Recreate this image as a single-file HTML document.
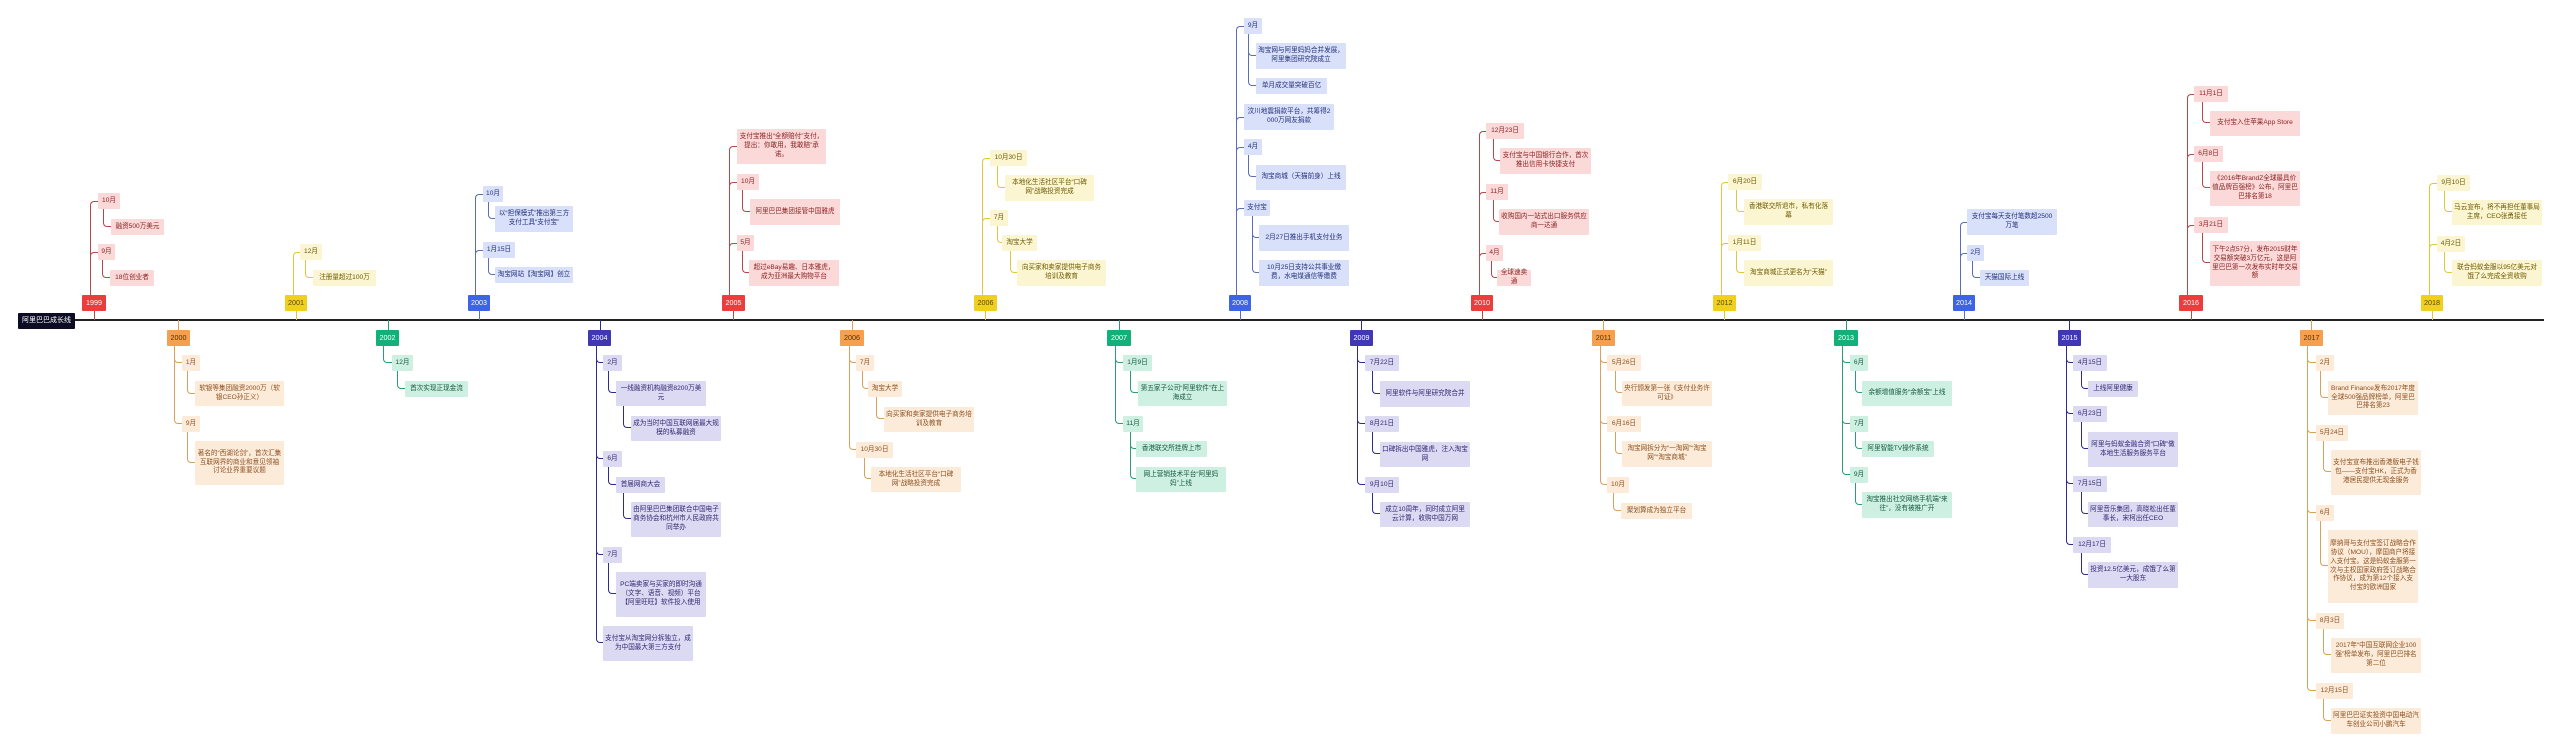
<!DOCTYPE html>
<html><head><meta charset="utf-8"><style>
body{margin:0;width:2560px;height:752px;background:#fff;position:relative;overflow:hidden;font-family:"Liberation Sans","Noto Sans CJK SC",sans-serif}
.b{position:absolute;box-sizing:border-box;display:flex;align-items:center;justify-content:center;text-align:center;font-size:6.6px;line-height:8.8px;padding:0 2px;border-radius:1px;white-space:normal;word-break:break-all}
.y{font-size:7.2px;border-radius:1px;white-space:nowrap;padding:0}
.u,.d,.s{position:absolute;box-sizing:border-box}
.u{border-left:1.2px solid;border-top:1.2px solid;border-top-left-radius:4px}
.d{border-left:1.2px solid;border-bottom:1.2px solid;border-bottom-left-radius:4px}
.s{border-left:1.2px solid;width:0}
.rl{background:#fcd9d9;color:#8a2222}.ry{background:#ee3b3b;color:#fff}.rc{border-color:#b5484b}
.ol{background:#fdebd9;color:#8a5020}.oy{background:#f5a04e;color:#5a3000}.oc{border-color:#d9a15c}
.yl{background:#fcf5d2;color:#6b5a00}.yy{background:#f0cf1d;color:#5a4a00}.yc{border-color:#e0c83c}
.gl{background:#cdf0e2;color:#15573f}.gy{background:#14b07a;color:#fff}.gc{border-color:#2b9c76}
.bl{background:#d9e0fa;color:#23307a}.by{background:#3d63e8;color:#fff}.bc{border-color:#5b6fb5}
.il{background:#dcd9f3;color:#2e2870}.iy{background:#4037b5;color:#fff}.ic{border-color:#2f2a8f}
</style></head><body>
<div style="position:absolute;left:74px;top:319px;width:2470px;height:1.5px;background:#222"></div>
<div class="b" style="left:18px;top:313px;width:57px;height:16px;background:#0c0c24;color:#fff;font-size:7px;white-space:nowrap;padding:0">阿里巴巴成长线</div>

<!-- 1999 -->
<i class="s rc" style="left:94px;top:311px;height:9px"></i>
<i class="u rc" style="left:90px;top:201px;width:8px;height:94px"></i>
<i class="u rc" style="left:90px;top:252px;width:8px;height:43px"></i>
<i class="d rc" style="left:103px;top:209px;width:8px;height:18px"></i>
<i class="d rc" style="left:102px;top:260px;width:8px;height:18px"></i>
<div class="b y ry" style="left:82px;top:295px;width:24px;height:16px">1999</div>
<div class="b rl" style="left:98px;top:193px;width:22px;height:16px">10月</div>
<div class="b rl" style="left:111px;top:219px;width:53px;height:16px">融资500万美元</div>
<div class="b rl" style="left:98px;top:244px;width:17px;height:16px">9月</div>
<div class="b rl" style="left:110px;top:270px;width:44px;height:16px">18位创业者</div>

<!-- 2001 -->
<i class="s yc" style="left:296px;top:311px;height:9px"></i>
<i class="u yc" style="left:293px;top:252px;width:7px;height:43px"></i>
<i class="d yc" style="left:305px;top:260px;width:8px;height:18px"></i>
<div class="b y yy" style="left:285px;top:295px;width:22px;height:16px">2001</div>
<div class="b yl" style="left:300px;top:244px;width:22px;height:16px">12月</div>
<div class="b yl" style="left:313px;top:270px;width:63px;height:16px">注册量超过100万</div>

<!-- 2000 -->
<i class="s oc" style="left:178px;top:320px;height:10px"></i>
<i class="d oc" style="left:174px;top:346px;width:8px;height:17px"></i>
<i class="d oc" style="left:174px;top:346px;width:8px;height:78px"></i>
<i class="d oc" style="left:187px;top:371px;width:8px;height:23px"></i>
<i class="d oc" style="left:187px;top:432px;width:8px;height:31px"></i>
<div class="b y oy" style="left:167px;top:330px;width:23px;height:16px">2000</div>
<div class="b ol" style="left:182px;top:355px;width:18px;height:16px">1月</div>
<div class="b ol" style="left:195px;top:381px;width:89px;height:25px">软银等集团融资2000万（软银CEO孙正义）</div>
<div class="b ol" style="left:182px;top:416px;width:18px;height:16px">9月</div>
<div class="b ol" style="left:195px;top:441px;width:89px;height:44px">著名的“西湖论剑”，首次汇集互联网界的商业和意见领袖讨论业界重要议题</div>

<!-- 2002 -->
<i class="s gc" style="left:388px;top:320px;height:10px"></i>
<i class="d gc" style="left:383px;top:346px;width:9px;height:17px"></i>
<i class="d gc" style="left:397px;top:371px;width:8px;height:18px"></i>
<div class="b y gy" style="left:376px;top:330px;width:23px;height:16px">2002</div>
<div class="b gl" style="left:392px;top:355px;width:21px;height:16px">12月</div>
<div class="b gl" style="left:405px;top:381px;width:63px;height:16px">首次实现正现金流</div>

<!-- 2003 -->
<i class="s bc" style="left:479px;top:311px;height:9px"></i>
<i class="u bc" style="left:475px;top:194px;width:8px;height:101px"></i>
<i class="u bc" style="left:475px;top:250px;width:8px;height:45px"></i>
<i class="d bc" style="left:488px;top:202px;width:7px;height:17px"></i>
<i class="d bc" style="left:488px;top:258px;width:7px;height:17px"></i>
<div class="b y by" style="left:468px;top:295px;width:22px;height:16px">2003</div>
<div class="b bl" style="left:483px;top:186px;width:20px;height:16px">10月</div>
<div class="b bl" style="left:495px;top:206px;width:78px;height:26px">以“担保模式”推出第三方支付工具“支付宝”</div>
<div class="b bl" style="left:483px;top:242px;width:32px;height:16px">1月15日</div>
<div class="b bl" style="left:495px;top:267px;width:78px;height:16px">淘宝网站【淘宝网】创立</div>

<!-- 2004 -->
<i class="s ic" style="left:600px;top:320px;height:10px"></i>
<i class="d ic" style="left:596px;top:346px;width:7px;height:17px"></i>
<i class="d ic" style="left:608px;top:371px;width:8px;height:22px"></i>
<i class="d ic" style="left:623px;top:406px;width:8px;height:22px"></i>
<i class="d ic" style="left:596px;top:346px;width:7px;height:113px"></i>
<i class="d ic" style="left:608px;top:467px;width:8px;height:18px"></i>
<i class="d ic" style="left:623px;top:493px;width:8px;height:26px"></i>
<i class="d ic" style="left:596px;top:346px;width:7px;height:209px"></i>
<i class="d ic" style="left:608px;top:563px;width:8px;height:31px"></i>
<i class="d ic" style="left:596px;top:346px;width:7px;height:297px"></i>
<div class="b y iy" style="left:588px;top:330px;width:23px;height:16px">2004</div>
<div class="b il" style="left:603px;top:355px;width:19px;height:16px">2月</div>
<div class="b il" style="left:616px;top:381px;width:90px;height:25px">一线融资机构融资8200万美元</div>
<div class="b il" style="left:631px;top:416px;width:90px;height:25px">成为当时中国互联网届最大规模的私募融资</div>
<div class="b il" style="left:603px;top:451px;width:19px;height:16px">6月</div>
<div class="b il" style="left:616px;top:477px;width:49px;height:16px">首届网商大会</div>
<div class="b il" style="left:631px;top:502px;width:90px;height:35px">由阿里巴巴集团联合中国电子商务协会和杭州市人民政府共同举办</div>
<div class="b il" style="left:603px;top:547px;width:19px;height:16px">7月</div>
<div class="b il" style="left:616px;top:572px;width:90px;height:45px">PC端卖家与买家的即时沟通（文字、语音、视频）平台【阿里旺旺】软件投入使用</div>
<div class="b il" style="left:603px;top:626px;width:90px;height:35px">支付宝从淘宝网分拆独立，成为中国最大第三方支付</div>

<!-- 2005 -->
<i class="s rc" style="left:733px;top:311px;height:9px"></i>
<i class="u rc" style="left:729px;top:146px;width:8px;height:149px"></i>
<i class="u rc" style="left:729px;top:182px;width:8px;height:113px"></i>
<i class="u rc" style="left:729px;top:243px;width:8px;height:52px"></i>
<i class="d rc" style="left:742px;top:190px;width:8px;height:22px"></i>
<i class="d rc" style="left:742px;top:251px;width:7px;height:22px"></i>
<div class="b y ry" style="left:722px;top:295px;width:23px;height:16px">2005</div>
<div class="b rl" style="left:737px;top:129px;width:89px;height:35px">支付宝推出“全额赔付”支付，提出：你敢用，我敢赔”承诺。</div>
<div class="b rl" style="left:737px;top:174px;width:22px;height:16px">10月</div>
<div class="b rl" style="left:750px;top:199px;width:90px;height:26px">阿里巴巴集团接管中国雅虎</div>
<div class="b rl" style="left:737px;top:235px;width:17px;height:16px">5月</div>
<div class="b rl" style="left:749px;top:260px;width:90px;height:26px">超过eBay易趣、日本雅虎，成为亚洲最大购物平台</div>

<!-- 2006 top -->
<i class="s yc" style="left:985px;top:311px;height:9px"></i>
<i class="u yc" style="left:982px;top:158px;width:8px;height:137px"></i>
<i class="u yc" style="left:982px;top:218px;width:8px;height:77px"></i>
<i class="d yc" style="left:997px;top:166px;width:8px;height:22px"></i>
<i class="d yc" style="left:997px;top:226px;width:5px;height:17px"></i>
<i class="d yc" style="left:1010px;top:251px;width:7px;height:22px"></i>
<div class="b y yy" style="left:974px;top:295px;width:23px;height:16px">2006</div>
<div class="b yl" style="left:990px;top:150px;width:37px;height:16px">10月30日</div>
<div class="b yl" style="left:1005px;top:175px;width:89px;height:26px">本地化生活社区平台“口碑网”战略投资完成</div>
<div class="b yl" style="left:990px;top:210px;width:18px;height:16px">7月</div>
<div class="b yl" style="left:1002px;top:235px;width:35px;height:16px">淘宝大学</div>
<div class="b yl" style="left:1017px;top:260px;width:89px;height:26px">向买家和卖家提供电子商务培训及教育</div>

<!-- 2006 bottom -->
<i class="s oc" style="left:852px;top:320px;height:10px"></i>
<i class="d oc" style="left:849px;top:346px;width:7px;height:17px"></i>
<i class="d oc" style="left:862px;top:371px;width:6px;height:18px"></i>
<i class="d oc" style="left:876px;top:397px;width:8px;height:22px"></i>
<i class="d oc" style="left:849px;top:346px;width:7px;height:104px"></i>
<i class="d oc" style="left:864px;top:458px;width:7px;height:21px"></i>
<div class="b y oy" style="left:840px;top:330px;width:24px;height:16px">2006</div>
<div class="b ol" style="left:856px;top:355px;width:18px;height:16px">7月</div>
<div class="b ol" style="left:868px;top:381px;width:34px;height:16px">淘宝大学</div>
<div class="b ol" style="left:884px;top:407px;width:90px;height:25px">向买家和卖家提供电子商务培训及教育</div>
<div class="b ol" style="left:856px;top:442px;width:37px;height:16px">10月30日</div>
<div class="b ol" style="left:871px;top:467px;width:90px;height:25px">本地化生活社区平台“口碑网”战略投资完成</div>

<!-- 2007 -->
<i class="s gc" style="left:1119px;top:320px;height:10px"></i>
<i class="d gc" style="left:1115px;top:346px;width:8px;height:17px"></i>
<i class="d gc" style="left:1130px;top:371px;width:8px;height:22px"></i>
<i class="d gc" style="left:1115px;top:346px;width:8px;height:78px"></i>
<i class="d gc" style="left:1130px;top:432px;width:6px;height:17px"></i>
<i class="d gc" style="left:1130px;top:432px;width:6px;height:47px"></i>
<div class="b y gy" style="left:1107px;top:330px;width:24px;height:16px">2007</div>
<div class="b gl" style="left:1123px;top:355px;width:29px;height:16px">1月9日</div>
<div class="b gl" style="left:1138px;top:381px;width:89px;height:25px">第五家子公司“阿里软件”在上海成立</div>
<div class="b gl" style="left:1123px;top:416px;width:20px;height:16px">11月</div>
<div class="b gl" style="left:1136px;top:441px;width:71px;height:16px">香港联交所挂牌上市</div>
<div class="b gl" style="left:1136px;top:467px;width:90px;height:25px">网上营销技术平台“阿里妈妈”上线</div>

<!-- 2008 -->
<i class="s bc" style="left:1240px;top:311px;height:9px"></i>
<i class="u bc" style="left:1236px;top:26px;width:8px;height:269px"></i>
<i class="u bc" style="left:1236px;top:117px;width:8px;height:178px"></i>
<i class="u bc" style="left:1236px;top:147px;width:8px;height:148px"></i>
<i class="u bc" style="left:1236px;top:208px;width:8px;height:87px"></i>
<i class="d bc" style="left:1248px;top:34px;width:8px;height:22px"></i>
<i class="d bc" style="left:1248px;top:34px;width:8px;height:52px"></i>
<i class="d bc" style="left:1248px;top:155px;width:8px;height:22px"></i>
<i class="d bc" style="left:1252px;top:216px;width:7px;height:22px"></i>
<i class="d bc" style="left:1252px;top:216px;width:7px;height:57px"></i>
<div class="b y by" style="left:1229px;top:295px;width:22px;height:16px">2008</div>
<div class="b bl" style="left:1244px;top:18px;width:18px;height:16px">9月</div>
<div class="b bl" style="left:1256px;top:43px;width:90px;height:26px">淘宝网与阿里妈妈合并发展，阿里集团研究院成立</div>
<div class="b bl" style="left:1256px;top:78px;width:71px;height:16px">单月成交量突破百亿</div>
<div class="b bl" style="left:1244px;top:104px;width:90px;height:26px">汶川地震捐款平台，共筹得2000万网友捐款</div>
<div class="b bl" style="left:1244px;top:139px;width:18px;height:16px">4月</div>
<div class="b bl" style="left:1256px;top:165px;width:90px;height:25px">淘宝商城（天猫前身）上线</div>
<div class="b bl" style="left:1244px;top:200px;width:26px;height:16px">支付宝</div>
<div class="b bl" style="left:1259px;top:225px;width:90px;height:26px">2月27日推出手机支付业务</div>
<div class="b bl" style="left:1259px;top:260px;width:90px;height:26px">10月25日支持公共事业缴费，水电煤通信等缴费</div>

<!-- 2009 -->
<i class="s ic" style="left:1361px;top:320px;height:10px"></i>
<i class="d ic" style="left:1357px;top:346px;width:8px;height:17px"></i>
<i class="d ic" style="left:1372px;top:371px;width:8px;height:23px"></i>
<i class="d ic" style="left:1357px;top:346px;width:8px;height:78px"></i>
<i class="d ic" style="left:1372px;top:432px;width:8px;height:22px"></i>
<i class="d ic" style="left:1357px;top:346px;width:8px;height:139px"></i>
<i class="d ic" style="left:1372px;top:493px;width:8px;height:21px"></i>
<div class="b y iy" style="left:1350px;top:330px;width:23px;height:16px">2009</div>
<div class="b il" style="left:1365px;top:355px;width:34px;height:16px">7月22日</div>
<div class="b il" style="left:1380px;top:381px;width:90px;height:26px">阿里软件与阿里研究院合并</div>
<div class="b il" style="left:1365px;top:416px;width:34px;height:16px">8月21日</div>
<div class="b il" style="left:1380px;top:442px;width:90px;height:25px">口碑拆出中国雅虎，注入淘宝网</div>
<div class="b il" style="left:1365px;top:477px;width:34px;height:16px">9月10日</div>
<div class="b il" style="left:1380px;top:502px;width:90px;height:25px">成立10周年，同时成立阿里云计算，收购中国万网</div>

<!-- 2010 -->
<i class="s rc" style="left:1482px;top:311px;height:9px"></i>
<i class="u rc" style="left:1479px;top:131px;width:7px;height:164px"></i>
<i class="u rc" style="left:1479px;top:192px;width:7px;height:103px"></i>
<i class="u rc" style="left:1479px;top:253px;width:7px;height:42px"></i>
<i class="d rc" style="left:1493px;top:139px;width:7px;height:22px"></i>
<i class="d rc" style="left:1493px;top:200px;width:6px;height:22px"></i>
<i class="d rc" style="left:1491px;top:261px;width:6px;height:17px"></i>
<div class="b y ry" style="left:1471px;top:295px;width:22px;height:16px">2010</div>
<div class="b rl" style="left:1486px;top:123px;width:38px;height:16px">12月23日</div>
<div class="b rl" style="left:1500px;top:148px;width:91px;height:26px">支付宝与中国银行合作，首次推出信用卡快捷支付</div>
<div class="b rl" style="left:1486px;top:184px;width:22px;height:16px">11月</div>
<div class="b rl" style="left:1499px;top:209px;width:90px;height:26px">收购国内一站式出口服务供应商一达通</div>
<div class="b rl" style="left:1486px;top:245px;width:17px;height:16px">4月</div>
<div class="b rl" style="left:1497px;top:270px;width:34px;height:16px">全球速卖通</div>

<!-- 2011 -->
<i class="s oc" style="left:1603px;top:320px;height:10px"></i>
<i class="d oc" style="left:1600px;top:346px;width:7px;height:17px"></i>
<i class="d oc" style="left:1615px;top:371px;width:7px;height:22px"></i>
<i class="d oc" style="left:1600px;top:346px;width:7px;height:78px"></i>
<i class="d oc" style="left:1615px;top:432px;width:7px;height:22px"></i>
<i class="d oc" style="left:1600px;top:346px;width:7px;height:139px"></i>
<i class="d oc" style="left:1613px;top:493px;width:8px;height:18px"></i>
<div class="b y oy" style="left:1592px;top:330px;width:23px;height:16px">2011</div>
<div class="b ol" style="left:1607px;top:355px;width:34px;height:16px">5月26日</div>
<div class="b ol" style="left:1622px;top:381px;width:90px;height:25px">央行颁发第一张《支付业务许可证》</div>
<div class="b ol" style="left:1607px;top:416px;width:34px;height:16px">6月16日</div>
<div class="b ol" style="left:1622px;top:441px;width:90px;height:26px">淘宝网拆分为“一淘网”“淘宝网”“淘宝商城”</div>
<div class="b ol" style="left:1607px;top:477px;width:22px;height:16px">10月</div>
<div class="b ol" style="left:1621px;top:503px;width:71px;height:16px">聚划算成为独立平台</div>

<!-- 2012 -->
<i class="s yc" style="left:1724px;top:311px;height:9px"></i>
<i class="u yc" style="left:1721px;top:182px;width:7px;height:113px"></i>
<i class="u yc" style="left:1721px;top:243px;width:7px;height:52px"></i>
<i class="d yc" style="left:1736px;top:190px;width:8px;height:22px"></i>
<i class="d yc" style="left:1736px;top:251px;width:8px;height:22px"></i>
<div class="b y yy" style="left:1713px;top:295px;width:23px;height:16px">2012</div>
<div class="b yl" style="left:1728px;top:174px;width:34px;height:16px">6月20日</div>
<div class="b yl" style="left:1744px;top:199px;width:89px;height:26px">香港联交所退市，私有化落幕</div>
<div class="b yl" style="left:1728px;top:235px;width:33px;height:16px">1月11日</div>
<div class="b yl" style="left:1744px;top:260px;width:89px;height:26px">淘宝商城正式更名为“天猫”</div>

<!-- 2013 -->
<i class="s gc" style="left:1846px;top:320px;height:10px"></i>
<i class="d gc" style="left:1842px;top:346px;width:8px;height:17px"></i>
<i class="d gc" style="left:1855px;top:371px;width:7px;height:22px"></i>
<i class="d gc" style="left:1842px;top:346px;width:8px;height:78px"></i>
<i class="d gc" style="left:1855px;top:432px;width:7px;height:17px"></i>
<i class="d gc" style="left:1842px;top:346px;width:8px;height:129px"></i>
<i class="d gc" style="left:1855px;top:483px;width:7px;height:22px"></i>
<div class="b y gy" style="left:1834px;top:330px;width:24px;height:16px">2013</div>
<div class="b gl" style="left:1850px;top:355px;width:18px;height:16px">6月</div>
<div class="b gl" style="left:1862px;top:381px;width:90px;height:25px">余额增值服务“余额宝”上线</div>
<div class="b gl" style="left:1850px;top:416px;width:18px;height:16px">7月</div>
<div class="b gl" style="left:1862px;top:441px;width:72px;height:16px">阿里智能TV操作系统</div>
<div class="b gl" style="left:1850px;top:467px;width:18px;height:16px">9月</div>
<div class="b gl" style="left:1862px;top:492px;width:90px;height:26px">淘宝推出社交网络手机端“来往”，没有被推广开</div>

<!-- 2014 -->
<i class="s bc" style="left:1964px;top:311px;height:9px"></i>
<i class="u bc" style="left:1960px;top:222px;width:7px;height:73px"></i>
<i class="u bc" style="left:1960px;top:253px;width:7px;height:42px"></i>
<i class="d bc" style="left:1972px;top:261px;width:8px;height:17px"></i>
<div class="b y by" style="left:1953px;top:295px;width:22px;height:16px">2014</div>
<div class="b bl" style="left:1967px;top:209px;width:90px;height:26px">支付宝每天支付笔数超2500万笔</div>
<div class="b bl" style="left:1967px;top:245px;width:17px;height:16px">2月</div>
<div class="b bl" style="left:1980px;top:270px;width:49px;height:16px">天猫国际上线</div>

<!-- 2015 -->
<i class="s ic" style="left:2069px;top:320px;height:10px"></i>
<i class="d ic" style="left:2066px;top:346px;width:7px;height:17px"></i>
<i class="d ic" style="left:2081px;top:371px;width:7px;height:18px"></i>
<i class="d ic" style="left:2066px;top:346px;width:7px;height:68px"></i>
<i class="d ic" style="left:2081px;top:422px;width:7px;height:27px"></i>
<i class="d ic" style="left:2066px;top:346px;width:7px;height:138px"></i>
<i class="d ic" style="left:2081px;top:492px;width:7px;height:22px"></i>
<i class="d ic" style="left:2066px;top:346px;width:7px;height:199px"></i>
<i class="d ic" style="left:2081px;top:553px;width:7px;height:22px"></i>
<div class="b y iy" style="left:2058px;top:330px;width:23px;height:16px">2015</div>
<div class="b il" style="left:2073px;top:355px;width:34px;height:16px">4月15日</div>
<div class="b il" style="left:2088px;top:381px;width:50px;height:16px">上线阿里健康</div>
<div class="b il" style="left:2073px;top:406px;width:34px;height:16px">6月23日</div>
<div class="b il" style="left:2088px;top:432px;width:90px;height:35px">阿里与蚂蚁金融合资“口碑”做本地生活服务服务平台</div>
<div class="b il" style="left:2073px;top:476px;width:34px;height:16px">7月15日</div>
<div class="b il" style="left:2088px;top:502px;width:90px;height:25px">阿里音乐集团，高晓松出任董事长，宋柯出任CEO</div>
<div class="b il" style="left:2073px;top:537px;width:38px;height:16px">12月17日</div>
<div class="b il" style="left:2088px;top:562px;width:90px;height:26px">投资12.5亿美元，成饿了么第一大股东</div>

<!-- 2016 -->
<i class="s rc" style="left:2191px;top:311px;height:9px"></i>
<i class="u rc" style="left:2187px;top:94px;width:7px;height:201px"></i>
<i class="u rc" style="left:2187px;top:154px;width:7px;height:141px"></i>
<i class="u rc" style="left:2187px;top:225px;width:7px;height:70px"></i>
<i class="d rc" style="left:2202px;top:102px;width:8px;height:21px"></i>
<i class="d rc" style="left:2202px;top:162px;width:8px;height:26px"></i>
<i class="d rc" style="left:2202px;top:233px;width:8px;height:30px"></i>
<div class="b y ry" style="left:2179px;top:295px;width:24px;height:16px">2016</div>
<div class="b rl" style="left:2194px;top:86px;width:34px;height:16px">11月1日</div>
<div class="b rl" style="left:2210px;top:111px;width:90px;height:25px">支付宝入住苹果App Store</div>
<div class="b rl" style="left:2194px;top:146px;width:29px;height:16px">6月8日</div>
<div class="b rl" style="left:2210px;top:171px;width:90px;height:35px">《2016年BrandZ全球最具价值品牌百强榜》公布，阿里巴巴排名第18</div>
<div class="b rl" style="left:2194px;top:217px;width:34px;height:16px">3月21日</div>
<div class="b rl" style="left:2210px;top:241px;width:90px;height:45px">下午2点57分，发布2015财年交易额突破3万亿元，这是阿里巴巴第一次发布实时年交易额</div>

<!-- 2017 -->
<i class="s oc" style="left:2311px;top:320px;height:10px"></i>
<i class="d oc" style="left:2307px;top:346px;width:9px;height:17px"></i>
<i class="d oc" style="left:2320px;top:371px;width:8px;height:27px"></i>
<i class="d oc" style="left:2307px;top:346px;width:9px;height:87px"></i>
<i class="d oc" style="left:2323px;top:441px;width:8px;height:31px"></i>
<i class="d oc" style="left:2307px;top:346px;width:9px;height:167px"></i>
<i class="d oc" style="left:2320px;top:521px;width:8px;height:45px"></i>
<i class="d oc" style="left:2307px;top:346px;width:9px;height:275px"></i>
<i class="d oc" style="left:2323px;top:629px;width:8px;height:26px"></i>
<i class="d oc" style="left:2307px;top:346px;width:9px;height:345px"></i>
<i class="d oc" style="left:2323px;top:699px;width:8px;height:22px"></i>
<div class="b y oy" style="left:2300px;top:330px;width:23px;height:16px">2017</div>
<div class="b ol" style="left:2316px;top:355px;width:18px;height:16px">2月</div>
<div class="b ol" style="left:2328px;top:381px;width:90px;height:34px">Brand Finance发布2017年度全球500强品牌榜单，阿里巴巴排名第23</div>
<div class="b ol" style="left:2316px;top:425px;width:32px;height:16px">5月24日</div>
<div class="b ol" style="left:2331px;top:450px;width:90px;height:45px">支付宝宣布推出香港版电子钱包——支付宝HK，正式为香港居民提供无现金服务</div>
<div class="b ol" style="left:2316px;top:505px;width:18px;height:16px">6月</div>
<div class="b ol" style="left:2328px;top:530px;width:90px;height:73px">摩纳哥与支付宝签订战略合作协议（MOU），摩国商户将接入支付宝。这是蚂蚁金服第一次与主权国家政府签订战略合作协议，成为第12个接入支付宝的欧洲国家</div>
<div class="b ol" style="left:2316px;top:613px;width:28px;height:16px">8月3日</div>
<div class="b ol" style="left:2331px;top:638px;width:90px;height:35px">2017年“中国互联网企业100强”榜单发布，阿里巴巴排名第二位</div>
<div class="b ol" style="left:2316px;top:683px;width:37px;height:16px">12月15日</div>
<div class="b ol" style="left:2331px;top:708px;width:90px;height:26px">阿里巴巴证实投资中国电动汽车创业公司小鹏汽车</div>

<!-- 2018 -->
<i class="s yc" style="left:2432px;top:311px;height:9px"></i>
<i class="u yc" style="left:2429px;top:183px;width:8px;height:112px"></i>
<i class="u yc" style="left:2429px;top:244px;width:8px;height:51px"></i>
<i class="d yc" style="left:2444px;top:191px;width:8px;height:21px"></i>
<i class="d yc" style="left:2444px;top:252px;width:8px;height:21px"></i>
<div class="b y yy" style="left:2421px;top:295px;width:22px;height:16px">2018</div>
<div class="b yl" style="left:2437px;top:175px;width:33px;height:16px">9月10日</div>
<div class="b yl" style="left:2452px;top:200px;width:90px;height:25px">马云宣布，将不再担任董事局主席，CEO张勇接任</div>
<div class="b yl" style="left:2437px;top:236px;width:28px;height:16px">4月2日</div>
<div class="b yl" style="left:2452px;top:260px;width:90px;height:26px">联合蚂蚁金服以95亿美元对饿了么完成全资收购</div>
</body></html>
